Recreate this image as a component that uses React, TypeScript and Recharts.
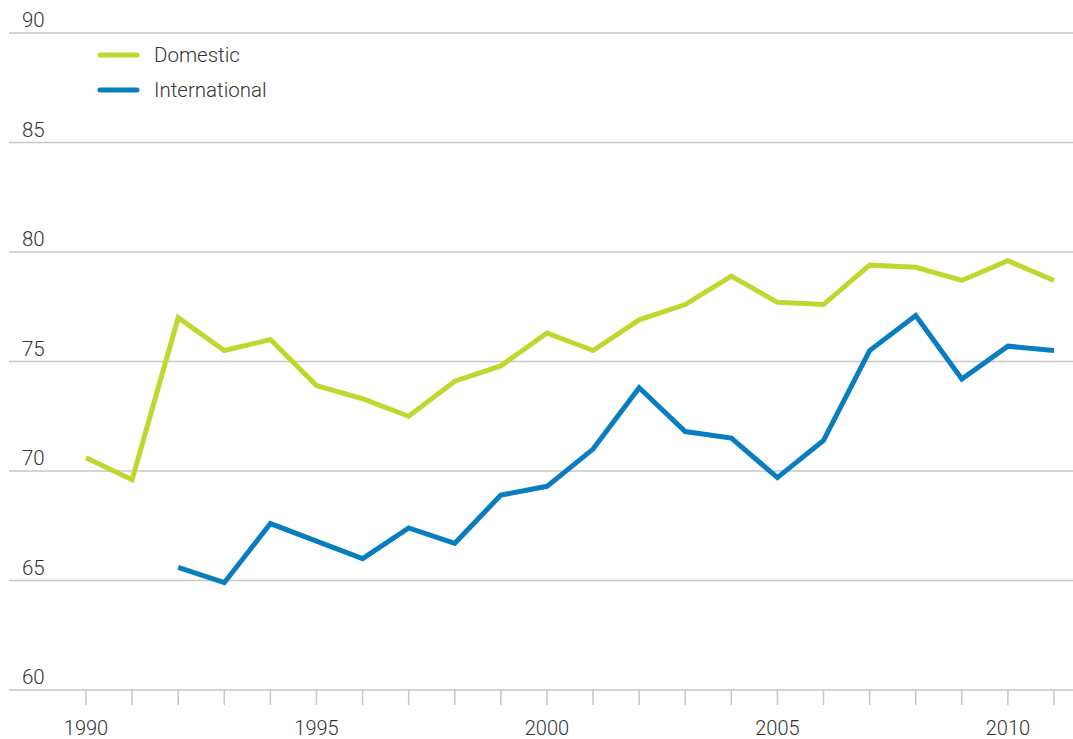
import { LineChart, Line, XAxis, YAxis, CartesianGrid } from "recharts";

const years = [
  1990, 1991, 1992, 1993, 1994, 1995, 1996, 1997, 1998, 1999, 2000,
  2001, 2002, 2003, 2004, 2005, 2006, 2007, 2008, 2009, 2010, 2011,
];
const domestic = [
  70.6, 69.6, 77.0, 75.5, 76.0, 73.9, 73.3, 72.5, 74.1, 74.8, 76.3,
  75.5, 76.9, 77.6, 78.9, 77.7, 77.6, 79.4, 79.3, 78.7, 79.6, 78.7,
];
const international = [
  null, null, 65.6, 64.9, 67.6, 66.8, 66.0, 67.4, 66.7, 68.9, 69.3,
  71.0, 73.8, 71.8, 71.5, 69.7, 71.4, 75.5, 77.1, 74.2, 75.7, 75.5,
];
const yTicks = [60, 65, 70, 75, 80, 85, 90];
const seriesNames = ["Domestic", "International"];

const data = years.map((year, i) => ({
  year,
  domestic: domestic[i],
  international: international[i],
}));

const GREEN = "#c1d72f";
const BLUE = "#0a7dc1";
const TEXT = "#333333";
const GRID = "#c6c6c6";
const FONT = "Roboto, 'Liberation Sans', sans-serif";

const YTick = (props: any) => {
  const { y, payload } = props;
  return (
    <text x={22} y={y - 6} fill={TEXT} fontSize={20.5} fontFamily={FONT} fontWeight={300}>
      {payload.value}
    </text>
  );
};

const XTick = (props: any) => {
  const { x, payload } = props;
  if (payload.value % 5 !== 0) return null;
  return (
    <text x={x} y={735} fill={TEXT} fontSize={20} fontFamily={FONT} fontWeight={300} textAnchor="middle">
      {payload.value}
    </text>
  );
};

// legend drawn on top of the chart so it does not shrink the plot area
const ChartLegend = () => {
  const colors = [GREEN, BLUE];
  return (
    <svg width={220} height={70} style={{ position: "absolute", left: 97, top: 42 }}>
      {seriesNames.map((name, i) => (
        <g key={name}>
          <line x1={3} x2={40} y1={13 + i * 35} y2={13 + i * 35} stroke={colors[i]} strokeWidth={5} strokeLinecap="round" />
          <text x={57} y={20 + i * 35} fill={TEXT} fontSize={20.5} fontFamily={FONT} fontWeight={300}>
            {name}
          </text>
        </g>
      ))}
    </svg>
  );
};

export default function App() {
  return (
    <div style={{ position: "absolute", left: 0, top: 0, width: 1073, height: 739, background: "#fff" }}>
      <LineChart width={1073} height={739} data={data} margin={{ top: 33, right: 0, left: 8, bottom: 0 }}>
        <CartesianGrid vertical={false} stroke={GRID} strokeWidth={1.5} />
        <XAxis
          dataKey="year"
          type="number"
          domain={[1990, 2011]}
          ticks={years}
          interval={0}
          padding={{ left: 77, right: 19 }}
          height={49}
          axisLine={false}
          tickLine={{ stroke: GRID, strokeWidth: 1.5 }}
          tickSize={15}
          tick={<XTick />}
        />
        <YAxis
          domain={[60, 90]}
          ticks={yTicks}
          width={1}
          axisLine={false}
          tickLine={false}
          tick={<YTick />}
        />
        <Line type="linear" dataKey="domestic" name={seriesNames[0]} stroke={GREEN} strokeWidth={5} dot={false} isAnimationActive={false} />
        <Line type="linear" dataKey="international" name={seriesNames[1]} stroke={BLUE} strokeWidth={5} dot={false} isAnimationActive={false} />
      </LineChart>
      <ChartLegend />
    </div>
  );
}
